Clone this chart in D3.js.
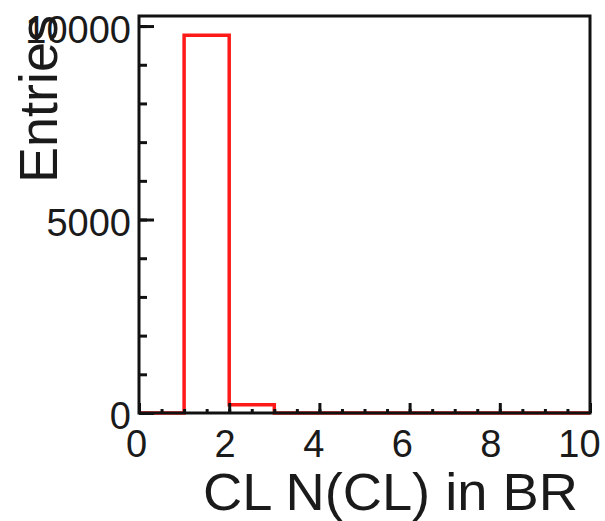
<!DOCTYPE html>
<html>
<head>
<meta charset="utf-8">
<script src="https://cdn.jsdelivr.net/npm/d3@7"></script>
<style>
  body { margin: 0; background: #fff; }
  text { font-family: "Liberation Sans", Arial, sans-serif; fill: #1a1a1a; }
</style>
</head>
<body>
<div id="chart"></div>
<script>
// histogram bins (lower edges) and entries per bin
const binEdges = [0, 1, 2, 3, 4, 5, 6, 7, 8, 9, 10];
const binCounts = [0, 9760, 210, 0, 0, 0, 0, 0, 0, 0];
const xMajorTicks = [0, 2, 4, 6, 8, 10];
const yMajorTicks = [0, 5000, 10000];
const yMax = 10260;

const width = 605;
const height = 521;
const padLeft = 139;
const padRight = 590;
const padTop = 16;
const padBottom = 413;

const svg = d3
  .select("#chart")
  .append("svg")
  .attr("width", width)
  .attr("height", height);

const x = d3.scaleLinear().domain([0, 10]).range([padLeft, padRight]);
const y = d3.scaleLinear().domain([0, yMax]).range([padBottom, padTop]);
// ROOT puts the labels a little to the left of the ticks
const xLabel = d3.scaleLinear().domain([0, 10]).range([136, 579]);

// histogram outline
const pts = binCounts.map((c, i) => [binEdges[i], c]);
pts.push([binEdges[binEdges.length - 1], binCounts[binCounts.length - 1]]);
const line = d3
  .line()
  .x((d) => x(d[0]))
  .y((d) => y(d[1]))
  .curve(d3.curveStepAfter);

svg
  .append("path")
  .attr("d", line(pts))
  .attr("fill", "none")
  .attr("stroke", "#ff1a1a")
  .attr("stroke-width", 3.5);

// minor ticks
const xMinor = d3.range(0, 10.01, 0.5);
const yMinor = d3.range(0, yMax, 1000);

svg
  .append("g")
  .attr("transform", `translate(0, ${padBottom})`)
  .call(d3.axisBottom(x).tickValues(xMinor).tickSize(-4).tickFormat(""))
  .call((g) => g.select(".domain").remove());

svg
  .append("g")
  .attr("transform", `translate(${padLeft}, 0)`)
  .call(d3.axisLeft(y).tickValues(yMinor).tickSize(-8).tickFormat(""))
  .call((g) => g.select(".domain").remove());

// major ticks + labels
const xAxis = svg
  .append("g")
  .attr("transform", `translate(0, ${padBottom})`)
  .call(
    d3
      .axisBottom(x)
      .tickValues(xMajorTicks)
      .tickSize(-10)
      .tickPadding(17)
      .tickFormat(d3.format("d"))
  )
  .call((g) => g.select(".domain").remove());
xAxis
  .selectAll("text")
  .attr("dx", (d) => xLabel(d) - x(d))
  .style("font-size", "38px")
  .attr("fill", "#1a1a1a");

const yAxis = svg
  .append("g")
  .attr("transform", `translate(${padLeft}, 0)`)
  .call(
    d3
      .axisLeft(y)
      .tickValues(yMajorTicks)
      .tickSize(-15)
      .tickPadding(8)
      .tickFormat(d3.format("d"))
  )
  .call((g) => g.select(".domain").remove());
yAxis
  .selectAll("text")
  .attr("dy", "0.42em")
  .style("font-size", "38px")
  .attr("fill", "#1a1a1a");

svg.selectAll(".tick line").attr("stroke", "#111").attr("stroke-width", 3);

// frame
svg
  .append("rect")
  .attr("x", padLeft)
  .attr("y", padTop)
  .attr("width", padRight - padLeft)
  .attr("height", padBottom - padTop)
  .attr("fill", "none")
  .attr("stroke", "#111")
  .attr("stroke-width", 3);

// titles
svg
  .append("text")
  .attr("x", 578)
  .attr("y", 510)
  .attr("text-anchor", "end")
  .attr("textLength", 375)
  .attr("lengthAdjust", "spacingAndGlyphs")
  .style("font-size", "51px")
  .text("CL N(CL) in BR");

svg
  .append("text")
  .attr("transform", "translate(57, 15) rotate(-90)")
  .attr("text-anchor", "end")
  .style("font-size", "54px")
  .text("Entries");
</script>
</body>
</html>
